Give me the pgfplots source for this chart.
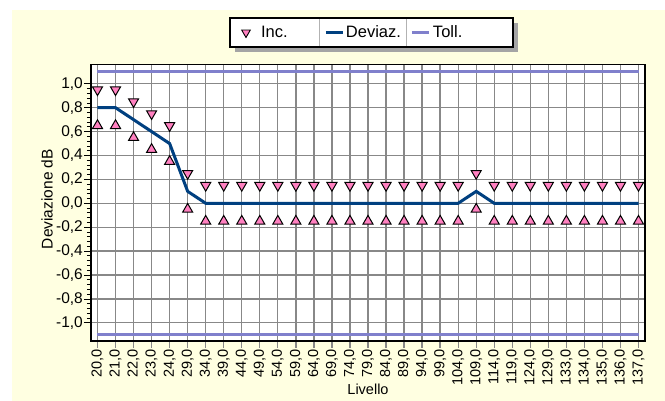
\documentclass[border=0pt]{standalone}
\usepackage{fontspec}
\setmainfont{Liberation Sans}
\usepackage{pgfplots}
\usepackage{pgfplotstable}
\pgfplotsset{compat=1.18}
\definecolor{bgyellow}{RGB}{255,255,225}
\definecolor{devblue}{RGB}{0,64,128}
\definecolor{tollblue}{RGB}{128,128,204}
\definecolor{incpink}{RGB}{255,128,192}
\definecolor{gridgray}{RGB}{136,136,136}
\definecolor{shadowgray}{RGB}{165,165,165}
\newcommand\tickfont{\fontsize{15.5}{18}\selectfont}
\newcommand\xtickfont{\fontsize{14.5}{17}\selectfont}
\newcommand\legfont{\fontsize{16.5}{19}\selectfont}

\pgfplotstableread{
x dev hi lo
0 0.8 0.95 0.65
1 0.8 0.95 0.65
2 0.7 0.85 0.55
3 0.6 0.75 0.45
4 0.5 0.65 0.35
5 0.1 0.25 -0.05
6 0 0.15 -0.15
7 0 0.15 -0.15
8 0 0.15 -0.15
9 0 0.15 -0.15
10 0 0.15 -0.15
11 0 0.15 -0.15
12 0 0.15 -0.15
13 0 0.15 -0.15
14 0 0.15 -0.15
15 0 0.15 -0.15
16 0 0.15 -0.15
17 0 0.15 -0.15
18 0 0.15 -0.15
19 0 0.15 -0.15
20 0 0.15 -0.15
21 0.1 0.25 -0.05
22 0 0.15 -0.15
23 0 0.15 -0.15
24 0 0.15 -0.15
25 0 0.15 -0.15
26 0 0.15 -0.15
27 0 0.15 -0.15
28 0 0.15 -0.15
29 0 0.15 -0.15
30 0 0.15 -0.15
}\devdata

\begin{document}
\begin{tikzpicture}
\useasboundingbox (0pt,0pt) rectangle (665pt,401pt);
\fill[bgyellow] (12pt,0pt) rectangle (665pt,391pt);
% legend frame
\fill[shadowgray] (235pt,349pt) rectangle (518pt,378pt);
\fill[white] (230pt,354pt) rectangle (513pt,383pt);
\draw[gray!60, line width=0.8pt] (319pt,354pt) -- (319pt,383pt);
\draw[gray!60, line width=0.8pt] (406pt,354pt) -- (406pt,383pt);
\draw[black, line width=1.2pt] (230pt,354pt) rectangle (513pt,383pt);
\begin{axis}[
  at={(91pt,60pt)}, anchor=south west,
  scale only axis, width=554pt, height=276.7pt,
  xmin=-0.36, xmax=30.36, ymin=-1.152, ymax=1.163,
  xtick={0,...,30},
  xticklabels={{20,0},{21,0},{22,0},{23,0},{24,0},{29,0},{34,0},{39,0},{44,0},{49,0},{54,0},{59,0},{64,0},{69,0},{74,0},{79,0},{84,0},{89,0},{94,0},{99,0},{104,0},{109,0},{114,0},{119,0},{124,0},{129,0},{133,0},{134,0},{135,0},{136,0},{137,0}},
  ytick={-1,-0.8,-0.6,-0.4,-0.2,0,0.2,0.4,0.6,0.8,1},
  yticklabels={{-1,0},{-0,8},{-0,6},{-0,4},{-0,2},{0,0},{0,2},{0,4},{0,6},{0,8},{1,0}},
  minor y tick num=4,
  tick pos=left, tick align=outside,
  major tick length=7pt, minor tick length=4pt,
  xtick style={draw=gridgray, line width=1.3pt},
  ytick style={draw=black, line width=0.8pt},
  grid=major, major grid style={draw=gridgray, line width=1.3pt},
  axis line style={line width=1.5pt},
  axis background/.style={fill=white},
  xticklabel style={rotate=90, anchor=east, font=\xtickfont, inner sep=1pt},
  yticklabel style={font=\tickfont, inner sep=1pt},
  xlabel={Livello}, ylabel={Deviazione dB},
  xlabel style={at={(axis description cs:0.5,-0.1735)}, anchor=center, font=\fontsize{14.5}{17}\selectfont},
  ylabel style={at={(axis description cs:-0.0794,0.513)}, anchor=center, font=\fontsize{15.5}{18}\selectfont},
  legend style={at={(0.2509,1.1149)}, anchor=west, draw=none, fill=none,
    inner sep=0pt, outer sep=0pt, nodes={inner sep=0pt}, font=\legfont,
    /tikz/column sep=0pt},
  legend columns=3, legend cell align=left,
]
\addlegendimage{only marks, mark=triangle*, mark size=5pt,
  mark options={rotate=180, fill=incpink, draw=black, line width=0.9pt},
  legend image code/.code={\path[draw=none,fill=none] (-16pt,-6pt) rectangle (15pt,6pt); \draw plot coordinates {(0pt,0pt)};}}
\addlegendentry[text width=58pt]{Inc.}
\addlegendimage{devblue, line width=3pt,
  legend image code/.code={\path[draw=none,fill=none] (-7pt,-6pt) rectangle (20pt,6pt); \draw (0pt,0pt) -- (17pt,0pt);}}
\addlegendentry[text width=60pt]{Deviaz.}
\addlegendimage{tollblue, line width=3pt,
  legend image code/.code={\path[draw=none,fill=none] (-6pt,-6pt) rectangle (21pt,6pt); \draw (0pt,0pt) -- (17pt,0pt);}}
\addlegendentry[text width=80pt]{Toll.}

\addplot[tollblue, line width=3pt, forget plot] coordinates {(0,1.1) (30,1.1)};
\addplot[tollblue, line width=3pt, forget plot] coordinates {(0,-1.1) (30,-1.1)};
\addplot[devblue, line width=3pt, forget plot] table[x=x, y=dev] {\devdata};
\addplot[only marks, mark=triangle*, mark size=5.8pt, forget plot,
  mark options={rotate=180, fill=incpink, draw=black, line width=1pt}] table[x=x, y=hi] {\devdata};
\addplot[only marks, mark=triangle*, mark size=5.8pt, forget plot,
  mark options={fill=incpink, draw=black, line width=1pt}] table[x=x, y=lo] {\devdata};
\end{axis}
\end{tikzpicture}
\end{document}
